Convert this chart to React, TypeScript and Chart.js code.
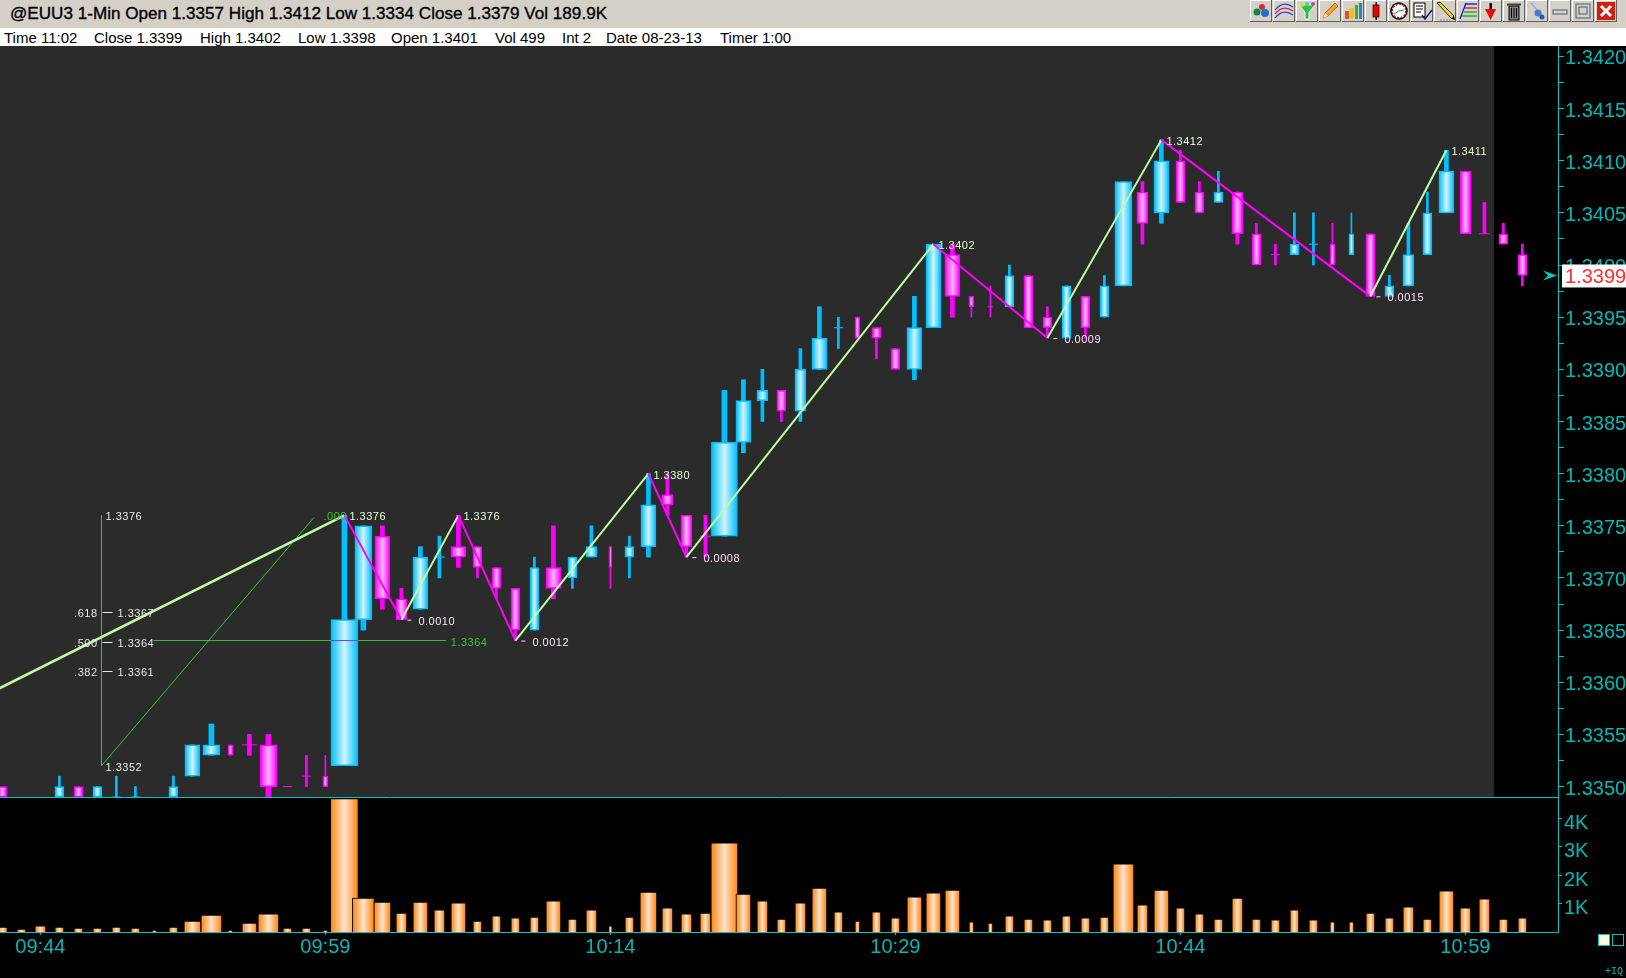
import React, { useEffect, useRef } from "react";
import { Chart, registerables } from "chart.js";

Chart.register(...registerables);

// ---------- data ----------
const firstBarIndex = -2;
const timeLabels = ["09:44", "09:59", "10:14", "10:29", "10:44", "10:59"];
const minutesPerLabel = 15;

const opens = [1.3350,1.3348,1.3347,1.3349,1.3350,1.3349,1.3349,1.3349,1.3348,1.3349,1.3351,1.3353,1.3354,1.3354,1.3354,1.3350,1.3351,1.3351,1.3352,1.3366,1.3374,1.3368,1.3367,1.3372,1.3373,1.3373,1.3371,1.3369,1.3365,1.3371,1.3370,1.3372,1.3373,1.3372,1.3373,1.3378,1.3376,1.3374,1.3374,1.3383,1.3387,1.3388,1.3386,1.3390,1.3394,1.3395,1.3394,1.3392,1.3390,1.3394,1.3401,1.3397,1.3396,1.3396,1.3399,1.3395,1.3393,1.3397,1.3395,1.3398,1.3407,1.3405,1.3410,1.3407,1.3406,1.3407,1.3403,1.3401,1.3401,1.3402,1.3402,1.3401,1.3403,1.3397,1.3398,1.3401,1.3405,1.3409,1.3403,1.3403,1.3401];
const highs = [1.3350,1.3348,1.3348,1.3351,1.3350,1.3350,1.3351,1.3350,1.3348,1.3351,1.3354,1.3356,1.3354,1.3355,1.3355,1.3350,1.3353,1.3353,1.3376,1.3375,1.3375,1.3369,1.3373,1.3374,1.3376,1.3373,1.3371,1.3369,1.3372,1.3375,1.3372,1.3375,1.3373,1.3374,1.3380,1.3380,1.3376,1.3376,1.3388,1.3389,1.3390,1.3388,1.3392,1.3396,1.3395,1.3395,1.3394,1.3392,1.3397,1.3402,1.3402,1.3397,1.3398,1.3400,1.3399,1.3396,1.3398,1.3397,1.3399,1.3408,1.3408,1.3412,1.3411,1.3408,1.3409,1.3407,1.3404,1.3402,1.3405,1.3405,1.3404,1.3405,1.3403,1.3399,1.3404,1.3407,1.3411,1.3409,1.3406,1.3404,1.3402];
const lows = [1.3349,1.3347,1.3346,1.3349,1.3349,1.3349,1.3348,1.3348,1.3347,1.3349,1.3351,1.3353,1.3353,1.3353,1.3348,1.3350,1.3350,1.3350,1.3352,1.3365,1.3367,1.3366,1.3367,1.3370,1.3371,1.3370,1.3368,1.3364,1.3365,1.3368,1.3369,1.3372,1.3369,1.3370,1.3372,1.3376,1.3372,1.3372,1.3374,1.3382,1.3385,1.3385,1.3385,1.3390,1.3392,1.3393,1.3391,1.3390,1.3389,1.3394,1.3395,1.3395,1.3395,1.3396,1.3394,1.3393,1.3393,1.3393,1.3395,1.3398,1.3402,1.3404,1.3406,1.3405,1.3406,1.3402,1.3400,1.3400,1.3401,1.3400,1.3400,1.3401,1.3397,1.3397,1.3398,1.3401,1.3405,1.3403,1.3403,1.3402,1.3398];
const closes = [1.3349,1.3347,1.3348,1.3350,1.3349,1.3350,1.3349,1.3349,1.3348,1.3350,1.3354,1.3354,1.3353,1.3354,1.3350,1.3350,1.3351,1.3350,1.3366,1.3375,1.3368,1.3366,1.3372,1.3372,1.3372,1.3371,1.3369,1.3365,1.3371,1.3369,1.3372,1.3373,1.3371,1.3373,1.3377,1.3377,1.3373,1.3374,1.3383,1.3387,1.3388,1.3386,1.3390,1.3393,1.3394,1.3393,1.3393,1.3390,1.3394,1.3402,1.3397,1.3396,1.3396,1.3399,1.3394,1.3394,1.3398,1.3394,1.3398,1.3408,1.3404,1.3410,1.3406,1.3405,1.3407,1.3403,1.3400,1.3401,1.3402,1.3402,1.3400,1.3403,1.3397,1.3398,1.3401,1.3405,1.3409,1.3403,1.3403,1.3402,1.3399];
const volumes = [175,105,215,175,135,135,175,135,70,175,385,595,70,315,635,135,135,70,4685,1195,1055,665,1055,775,1025,385,565,495,525,1095,455,775,215,525,1405,845,635,665,3135,1335,1095,455,1025,1545,705,385,705,495,1235,1375,1475,355,315,565,455,425,565,495,525,2395,955,1475,845,635,455,1195,455,425,775,425,355,355,665,495,885,455,1445,845,1165,455,499];
const volumeTicks = [1000, 2000, 3000, 4000];
const risingDojiBars = [4, 5, 6, 21, 42, 67];

const pivotBars = [-30, 16, 19, 22, 25, 32, 34, 47, 53, 59, 70, 74];
const pivotPrices = [1.3334, 1.3376, 1.3366, 1.3376, 1.3364, 1.338, 1.3372, 1.3402, 1.3393, 1.3412, 1.3397, 1.3411];
const pivotLabels = ["", "1.3376", "0.0010", "1.3376", "0.0012", "1.3380", "0.0008", "1.3402", "0.0009", "1.3412", "0.0015", "1.3411"];

const fibAnchorLow = 1.3352;
const fibAnchorHigh = 1.3376;
const fibRatios = [0.618, 0.5, 0.382];
const fibRatioLabels = [".618", ".500", ".382"];
const fibPriceLabels = ["1.3367", "1.3364", "1.3361"];
const lastPrice = 1.3399;

const headerTitle = "@EUU3 1-Min Open 1.3357 High 1.3412 Low 1.3334 Close 1.3379 Vol 189.9K";
const infoItems = ["Time 11:02", "Close 1.3399", "High 1.3402", "Low 1.3398", "Open 1.3401", "Vol 499", "Int 2", "Date 08-23-13", "Timer 1:00"];

// ---------- styling ----------
const infoItemLeft = [4, 94, 200, 298, 391, 495, 562, 606, 720];
// width in px of each volume bar; the candle body and wick follow it
const volumeBarPx = [8,7,9,7,7,7,7,7,3,7,15,19,3,13,19,7,7,3,26,20,15,9,13,9,13,7,7,7,7,13,7,9,2,7,15,9,9,9,25,13,9,7,9,13,7,3,7,7,13,13,13,3,3,7,7,7,7,7,7,19,9,13,7,7,7,9,7,7,7,7,3,3,7,7,9,7,13,9,9,7,7];
const bodyPxByVolumePx: Record<number, number> = { 2: 3, 3: 5, 7: 9, 8: 9, 9: 11, 13: 15, 15: 15, 19: 17, 20: 17, 25: 26, 26: 27 };
const wickPxByVolumePx: Record<number, number> = { 2: 1, 3: 1, 7: 2, 8: 2, 9: 3, 13: 4, 15: 4, 19: 5, 20: 5, 25: 5, 26: 5 };

const CYAN = "#00C4C4";
const TEAL = "#00B8B8";
const RISE = "#00BFFF";
const RISE_LIGHT = "#CFF4FF";
const FALL = "#FF00FF";
const FALL_LIGHT = "#FFB4FF";
const ORANGE = "#FF8C1E";
const ORANGE_LIGHT = "#FFE4CC";
const UP_LEG = "#BCFFA0";
const FIB_GREEN = "#33C733";
const LABEL = "#E8E8E8";
const AXIS_FONT = { family: "'Liberation Sans', Arial, sans-serif", size: 20 };
const NOTE_FONT = "11px 'Liberation Sans', sans-serif";
const NOTE_DROP = 2;

const PANEL_RIGHT_EDGE = 76.5;
const X_MIN = -2.126;
const X_MAX = 79.874;
const Y_MIN = 1.33490;
const Y_MAX = 1.34210;
const VOLUME_MAX = 4743;
const AXIS_PX = 68;
const FIB_X = 3.216;

// ---------- helpers ----------
const bars = opens.map((_, k) => firstBarIndex + k);
const isRising = (k: number) =>
  closes[k] === opens[k] ? risingDojiBars.includes(bars[k]) : closes[k] > opens[k];
const fibLevels = fibRatios.map((r) => fibAnchorLow + r * (fibAnchorHigh - fibAnchorLow));

const fitAxis = (size: { width?: number; height?: number }) => (s: any) => {
  if (size.width !== undefined) s.width = size.width;
  if (size.height !== undefined) s.height = size.height;
  s.paddingTop = 0;
  s.paddingBottom = 0;
  s.paddingLeft = 0;
  s.paddingRight = 0;
};

function barGradient(ctx: any, scaleId: string, k: number, w: number, edge: string, light: string) {
  const scale = ctx.chart.scales[scaleId];
  const cx = scale ? scale.getPixelForValue(bars[k]) : NaN;
  if (!Number.isFinite(cx) || !Number.isFinite(w)) return edge;
  const g = ctx.chart.ctx.createLinearGradient(cx - w / 2, 0, cx + w / 2, 0);
  g.addColorStop(0, edge);
  g.addColorStop(0.5, light);
  g.addColorStop(1, edge);
  return g;
}

function noteText(c: CanvasRenderingContext2D, text: string, x: number, y: number, color: string, align: CanvasTextAlign = "left") {
  c.font = NOTE_FONT;
  (c as any).letterSpacing = "0.5px";
  c.textAlign = align;
  c.textBaseline = "middle";
  c.fillStyle = color;
  c.fillText(text, x, y + NOTE_DROP);
  (c as any).letterSpacing = "0px";
}

const panelPlugin = {
  id: "panel",
  beforeDraw(chart: any) {
    const { ctx, chartArea, scales } = chart;
    ctx.save();
    ctx.fillStyle = "#2B2B2B";
    ctx.fillRect(0, chartArea.top, scales.x.getPixelForValue(PANEL_RIGHT_EDGE), chartArea.bottom - chartArea.top);
    ctx.restore();
  },
};

const widthPlugin = {
  id: "candleWidths",
  afterDatasetsUpdate(chart: any) {
    chart.data.datasets.forEach((ds: any, d: number) => {
      if (!ds.widthOf) return;
      chart.getDatasetMeta(d).data.forEach((el: any, k: number) => {
        el.width = ds.widthOf(k);
      });
    });
  },
};

const notesPlugin = {
  id: "notes",
  afterDatasetsDraw(chart: any) {
    const { ctx, scales } = chart;
    const X = (v: number) => scales.x.getPixelForValue(v);
    const Y = (v: number) => scales.y.getPixelForValue(v);
    ctx.save();
    pivotLabels.forEach((t, k) => {
      if (!t) return;
      const px = X(pivotBars[k]);
      const py = Y(pivotPrices[k]);
      const isHigh = pivotPrices[k] > pivotPrices[k - 1];
      if (isHigh) {
        noteText(ctx, t, px + 5, py, "#E6FFDC");
      } else {
        ctx.fillStyle = "#FFE0FF";
        ctx.fillRect(px + 6, py, 4, 1);
        noteText(ctx, t, px + 17, py, "#FFE0FF");
      }
    });
    const fx = X(FIB_X);
    noteText(ctx, "1.3376", fx + 4, Y(fibAnchorHigh), LABEL);
    noteText(ctx, "1.3352", fx + 4, Y(fibAnchorLow), LABEL);
    fibLevels.forEach((lvl, k) => {
      const y = Y(lvl) + 1;
      noteText(ctx, fibRatioLabels[k], fx - 4, y, LABEL, "right");
      ctx.fillStyle = LABEL;
      ctx.fillRect(fx + 1, Math.round(y), 10, 1);
      noteText(ctx, fibPriceLabels[k], fx + 16, y, LABEL);
    });
    noteText(ctx, ".000", X(14.9), Y(fibAnchorHigh), FIB_GREEN);
    noteText(ctx, "1.3364", X(21.6), Y(fibLevels[1]), FIB_GREEN);
    ctx.restore();
  },
  afterDraw(chart: any) {
    const { ctx, scales, chartArea } = chart;
    const y = scales.y.getPixelForValue(lastPrice);
    const r = chartArea.right;
    ctx.save();
    ctx.fillStyle = "#00C4C4";
    ctx.beginPath();
    ctx.moveTo(r - 15, y - 5);
    ctx.lineTo(r - 1, y);
    ctx.lineTo(r - 15, y + 5);
    ctx.lineTo(r - 10, y);
    ctx.closePath();
    ctx.fill();
    ctx.fillStyle = "#FFFFFF";
    ctx.fillRect(r + 4, y - 11, 64, 23);
    ctx.fillStyle = "#FF3030";
    ctx.font = "20px 'Liberation Sans', Arial, sans-serif";
    ctx.textAlign = "left";
    ctx.textBaseline = "middle";
    ctx.fillText(lastPrice.toFixed(4), r + 7, y + 2);
    ctx.restore();
  },
};

// ---------- toolbar ----------
const ICONS: React.ReactNode[] = [
  <g key="0"><circle cx="7" cy="12" r="3.5" fill="#0A8A3A" /><circle cx="12" cy="7" r="3" fill="#D03030" /><circle cx="15" cy="13" r="4" fill="#2070D0" /></g>,
  <g key="1" fill="none" strokeWidth="1.2"><path d="M2 10Q10 0 20 7" stroke="#2040E0" /><path d="M2 14Q10 4 20 11" stroke="#E02020" /><path d="M2 18Q10 8 20 15" stroke="#2040E0" /></g>,
  <g key="2"><path d="M3 5H19L13 12V19H9V12Z" fill="#30C040" stroke="#fff" strokeWidth="0.8" /><circle cx="6" cy="5" r="2" fill="#F0D020" /><circle cx="11" cy="4" r="2" fill="#40D0D0" /><circle cx="17" cy="4" r="2" fill="#C040C0" /></g>,
  <g key="3"><path d="M4 18L6 13L16 3L19 6L9 16Z" fill="#F0A030" stroke="#B06010" strokeWidth="0.8" /><path d="M4 18L6 13L9 16Z" fill="#FFE0B0" /></g>,
  <g key="4"><rect x="3" y="11" width="4" height="8" fill="#E05030" /><rect x="8" y="8" width="4" height="11" fill="#F0C020" /><rect x="13" y="5" width="3" height="14" fill="#30B040" /><rect x="17" y="3" width="3" height="16" fill="#3080D0" /></g>,
  <g key="5"><rect x="10.5" y="2" width="1.5" height="18" fill="#000" /><rect x="8" y="5" width="6" height="12" fill="#F00000" stroke="#000" strokeWidth="0.7" /></g>,
  <g key="6"><circle cx="11" cy="11" r="8" fill="#fff" stroke="#000" strokeWidth="1.5" /><circle cx="11" cy="11" r="6.7" fill="none" stroke="#E00000" strokeWidth="1.2" strokeDasharray="2 1.5" /><path d="M6 14L11 11L16 10" stroke="#208080" strokeWidth="1" fill="none" /></g>,
  <g key="7"><rect x="3" y="3" width="11" height="14" fill="#fff" stroke="#000" /><path d="M5 6H12M5 9H12M5 12H10" stroke="#000" strokeWidth="1" /><path d="M11 15L14 19L21 10" stroke="#101080" strokeWidth="1.4" fill="none" /></g>,
  <g key="8"><path d="M3 3L6 2L20 16L18 19Z" fill="#F0D020" stroke="#000" strokeWidth="0.8" /><path d="M18 19L21 20L20 16Z" fill="#000" /><path d="M6 20H16" stroke="#808080" strokeDasharray="2 1" /></g>,
  <g key="9" strokeWidth="1.2" fill="none"><path d="M3 19L9 3" stroke="#0000E0" /><path d="M9 4H20" stroke="#0000E0" /><path d="M8 8H20" stroke="#E00000" /><path d="M7 12H20" stroke="#00A000" /><path d="M5 16H20" stroke="#00A000" /></g>,
  <g key="10"><rect x="9.5" y="3" width="2.5" height="8" fill="#000" /><path d="M5 9H16L10.7 20Z" fill="#F00000" /></g>,
  <g key="11"><rect x="6" y="6" width="10" height="14" fill="#808080" stroke="#000" /><rect x="4" y="3.5" width="14" height="2" fill="#404040" /><path d="M8.5 8V18M11 8V18M13.5 8V18" stroke="#000" /></g>,
  <g key="12"><path d="M5 3L17 17" stroke="#90B0D0" strokeWidth="1.5" /><circle cx="12" cy="13" r="3.5" fill="#4080D0" /><circle cx="16" cy="17" r="2.5" fill="#2060B0" /></g>,
  <rect key="13" x="4" y="10" width="14" height="4" fill="none" stroke="#607080" strokeWidth="1.2" />,
  <g key="14" fill="none" stroke="#607080" strokeWidth="1.2"><rect x="4" y="4" width="14" height="14" /><rect x="7" y="7" width="8" height="7" /></g>,
  <g key="15"><rect x="2" y="2" width="18" height="18" fill="#D02010" /><path d="M6 6L16 16M16 6L6 16" stroke="#fff" strokeWidth="3" /></g>,
];

function ToolButton({ i, children }: { i: number; children: React.ReactNode }) {
  return (
    <svg
      width={22}
      height={22}
      viewBox="0 0 22 22"
      style={{
        position: "absolute",
        left: 1250 + i * 23,
        top: 0,
        background: "#D4D0C8",
        boxShadow: "inset -1px -1px 0 #606060, inset 1px 1px 0 #FFFFFF",
      }}
    >
      {children}
    </svg>
  );
}

// ---------- app ----------
export default function App() {
  const priceRef = useRef<HTMLCanvasElement>(null);
  const volumeRef = useRef<HTMLCanvasElement>(null);

  useEffect(() => {
    const bodyW = (k: number) => bodyPxByVolumePx[volumeBarPx[k]] ?? 9;
    const wickW = (k: number) => wickPxByVolumePx[volumeBarPx[k]] ?? 2;
    const dojis = bars.map((_, k) => k).filter((k) => opens[k] === closes[k]);
    const bodies = bars.map((_, k) => k).filter((k) => opens[k] !== closes[k]);

    const price = new Chart(priceRef.current as any, {
      type: "bar",
      plugins: [panelPlugin, widthPlugin, notesPlugin],
      data: {
        datasets: [
          {
            label: "wicks",
            order: 7,
            grouped: false,
            barThickness: 2,
            data: bars.map((x, k) => ({ x, y: [lows[k], highs[k]] })),
            backgroundColor: (c: any) => (isRising(c.dataIndex ?? 0) ? RISE : FALL),
            widthOf: wickW,
          } as any,
          {
            label: "bodies",
            order: 6,
            grouped: false,
            barThickness: 8,
            data: bodies.map((k) => ({ x: bars[k], y: [opens[k], closes[k]] })),
            backgroundColor: (c: any) => {
              if (c.dataIndex === undefined) return RISE;
              const k = bodies[c.dataIndex];
              return isRising(k)
                ? barGradient(c, "x", k, bodyW(k), RISE, RISE_LIGHT)
                : barGradient(c, "x", k, bodyW(k), FALL, FALL_LIGHT);
            },
            borderColor: (c: any) => (isRising(bodies[c.dataIndex ?? 0]) ? RISE : FALL),
            borderWidth: 1.5,
            borderSkipped: false,
            widthOf: (d: number) => bodyW(bodies[d]),
          } as any,
          {
            type: "line",
            label: "dojis",
            order: 5,
            showLine: false,
            data: dojis.map((k) => ({ x: bars[k], y: opens[k] })),
            pointStyle: "line",
            pointBorderWidth: 1,
            pointRadius: (c: any) => (c.dataIndex === undefined ? 0 : bodyW(dojis[c.dataIndex]) / 2),
            pointBorderColor: (c: any) => (isRising(dojis[c.dataIndex ?? 0]) ? RISE : FALL),
          } as any,
          {
            type: "line",
            label: "fib frame",
            order: 4,
            data: [
              { x: FIB_X, y: fibAnchorHigh },
              { x: FIB_X, y: fibAnchorLow },
              { x: 14.4, y: fibAnchorHigh - 0.00002 },
            ],
            borderColor: FIB_GREEN,
            borderWidth: 1,
            pointRadius: 0,
          } as any,
          {
            type: "line",
            label: "fib midline",
            order: 3,
            data: [
              { x: 5.96, y: fibLevels[1] },
              { x: 16 - 0.7, y: fibLevels[1] },
              { x: 16 + 0.7, y: fibLevels[1] },
              { x: 21.35, y: fibLevels[1] },
            ],
            borderColor: FIB_GREEN,
            borderWidth: 1,
            pointRadius: 0,
            segment: {
              borderColor: (s: any) => (s.p0DataIndex === 1 ? "#7040E0" : FIB_GREEN),
            },
          } as any,
          {
            type: "line",
            label: "swing legs",
            order: 1,
            data: pivotBars.map((x, k) => ({ x, y: pivotPrices[k] })),
            borderWidth: 2,
            pointRadius: 0,
            borderColor: UP_LEG,
            segment: {
              borderColor: (s: any) => (s.p1.parsed.y > s.p0.parsed.y ? UP_LEG : FALL),
              borderWidth: (s: any) => (s.p0DataIndex === 0 ? 2.5 : 2),
            },
          } as any,
        ],
      },
      options: {
        animation: false,
        responsive: false,
        devicePixelRatio: 1,
        layout: { padding: 0, autoPadding: false },
        plugins: { legend: { display: false }, tooltip: { enabled: false }, title: { display: false } },
        scales: {
          x: {
            type: "linear",
            offset: false,
            min: X_MIN,
            max: X_MAX,
            afterFit: fitAxis({ height: 1 }),
            ticks: { display: false },
            grid: { display: false, offset: false },
            border: { display: true, color: CYAN, width: 1 },
          },
          y: {
            position: "right",
            beginAtZero: false,
            min: Y_MIN,
            max: Y_MAX,
            afterFit: fitAxis({ width: AXIS_PX }),
            grid: { drawOnChartArea: false, drawTicks: true, tickLength: 6, color: CYAN },
            border: { display: true, color: CYAN, width: 1 },
            ticks: {
              stepSize: 0.00025,
              includeBounds: false,
              autoSkip: false,
              padding: 1,
              labelOffset: 2.5,
              color: TEAL,
              font: AXIS_FONT,
              callback: (v: any) =>
                Math.round(v * 100000) % 50 === 0 && v >= Y_MIN ? Number(v).toFixed(4) : "",
            },
          },
        } as any,
      },
    });

    const volume = new Chart(volumeRef.current as any, {
      type: "bar",
      plugins: [widthPlugin],
      data: {
        datasets: [
          {
            label: "Vol",
            grouped: false,
            barThickness: 8,
            data: bars.map((x, k) => ({ x, y: volumes[k] })),
            backgroundColor: (c: any) =>
              c.dataIndex === undefined
                ? ORANGE
                : barGradient(c, "x", c.dataIndex, volumeBarPx[c.dataIndex], ORANGE, ORANGE_LIGHT),
            borderColor: "#000000",
            borderWidth: 1,
            borderSkipped: "bottom",
            widthOf: (k: number) => volumeBarPx[k] + 2,
          } as any,
        ],
      },
      options: {
        animation: false,
        responsive: false,
        devicePixelRatio: 1,
        layout: { padding: 0, autoPadding: false },
        plugins: { legend: { display: false }, tooltip: { enabled: false } },
        scales: {
          x: {
            type: "linear",
            offset: false,
            min: X_MIN,
            max: X_MAX,
            afterFit: fitAxis({ height: 46 }),
            grid: { drawOnChartArea: false, drawTicks: true, tickLength: 3, color: CYAN, offset: false },
            border: { display: true, color: CYAN, width: 1 },
            ticks: {
              stepSize: minutesPerLabel,
              includeBounds: false,
              autoSkip: false,
              maxRotation: 0,
              padding: 0,
              color: TEAL,
              font: AXIS_FONT,
              callback: (v: any) => timeLabels[v / minutesPerLabel] ?? "",
            },
          },
          y: {
            position: "right",
            beginAtZero: true,
            min: 0,
            max: VOLUME_MAX,
            afterFit: fitAxis({ width: AXIS_PX }),
            afterBuildTicks: (s: any) => {
              s.ticks = volumeTicks.map((value) => ({ value }));
            },
            grid: { drawOnChartArea: false, drawTicks: true, tickLength: 4, color: CYAN },
            border: { display: true, color: CYAN, width: 1 },
            ticks: {
              autoSkip: false,
              padding: 2,
              labelOffset: 5,
              color: TEAL,
              font: AXIS_FONT,
              callback: (v: any) => `${v / 1000}K`,
            },
          },
        } as any,
      },
    });

    return () => {
      price.destroy();
      volume.destroy();
    };
  }, []);

  return (
    <div style={{ position: "fixed", inset: 0, background: "#000", overflow: "hidden" }}>
      <div style={{ position: "absolute", left: 0, top: 0, width: 1626, height: 28, background: "#D4D0C8" }}>
        <span
          style={{
            position: "absolute",
            left: 10,
            top: 4,
            font: "17.1px 'Liberation Sans', Arial, sans-serif",
            WebkitTextStroke: "0.35px #000",
            color: "#000",
            whiteSpace: "nowrap",
          }}
        >
          {headerTitle}
        </span>
        {ICONS.map((icon, i) => (
          <ToolButton key={i} i={i}>{icon}</ToolButton>
        ))}
      </div>
      <div style={{ position: "absolute", left: 0, top: 28, width: 1626, height: 18, background: "#FFF" }}>
        {infoItems.map((t, i) => (
          <span
            key={t}
            style={{
              position: "absolute",
              left: infoItemLeft[i],
              top: 1,
              font: "15px 'Liberation Sans', Arial, sans-serif",
              color: "#000",
              whiteSpace: "nowrap",
            }}
          >
            {t}
          </span>
        ))}
      </div>
      <canvas ref={priceRef} width={1626} height={752} style={{ position: "absolute", left: 0, top: 46, width: 1626, height: 752 }} />
      <canvas ref={volumeRef} width={1626} height={181} style={{ position: "absolute", left: 0, top: 797, width: 1626, height: 181 }} />
      <div style={{ position: "absolute", left: 1598, top: 934, width: 10, height: 10, background: "#FFFFE0", border: "1px solid #00C4C4" }} />
      <div style={{ position: "absolute", left: 1612, top: 934, width: 10, height: 10, border: "1px solid #00C4C4" }} />
      <span style={{ position: "absolute", left: 1605, top: 966, font: "10px 'Liberation Mono', monospace", color: TEAL }}>+IQ</span>
    </div>
  );
}
